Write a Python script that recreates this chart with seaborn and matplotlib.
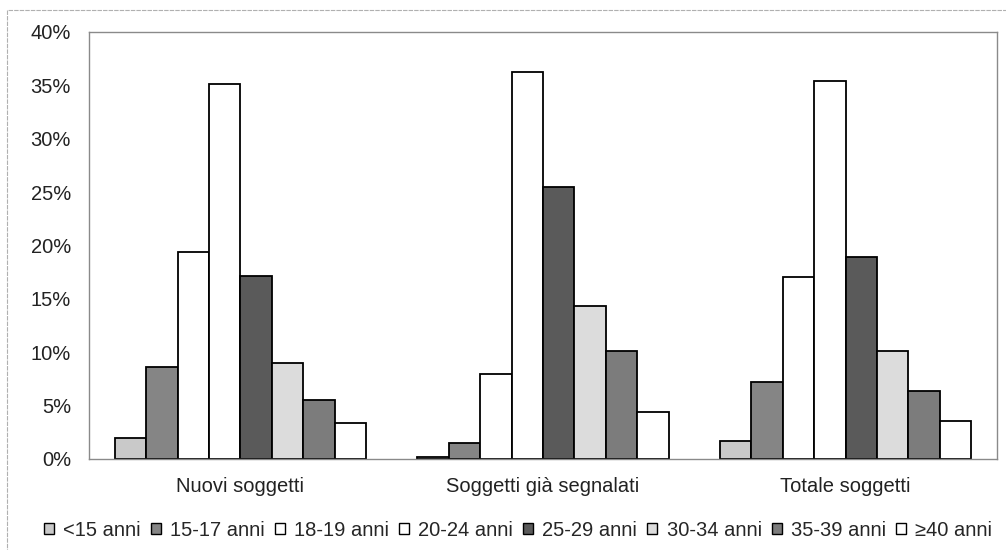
import matplotlib
matplotlib.use('Agg')

import pandas as pd
import matplotlib.pyplot as plt
import seaborn as sns
from matplotlib.patches import Patch, Rectangle
from matplotlib.ticker import FuncFormatter

# dati (% per classe d'età)
gruppi = ['Nuovi soggetti', 'Soggetti già segnalati', 'Totale soggetti']
eta = ['<15 anni', '15-17 anni', '18-19 anni', '20-24 anni',
       '25-29 anni', '30-34 anni', '35-39 anni', '≥40 anni']
nuovi = [2.0, 8.6, 19.4, 35.1, 17.1, 9.0, 5.5, 3.4]
gia_segnalati = [0.2, 1.5, 8.0, 36.2, 25.5, 14.3, 10.1, 4.4]
totale = [1.7, 7.2, 17.0, 35.4, 18.9, 10.1, 6.4, 3.6]
colori = ['#c9c9c9', '#858585', '#ffffff', '#ffffff',
          '#5a5a5a', '#dcdcdc', '#7c7c7c', '#ffffff']

righe = []
for g, valori in zip(gruppi, [nuovi, gia_segnalati, totale]):
    for e, v in zip(eta, valori):
        righe.append({'gruppo': g, 'eta': e, 'perc': v})
df = pd.DataFrame(righe)

sns.set_style('white')
plt.rcParams['font.family'] = ['Liberation Sans', 'DejaVu Sans']

fig = plt.figure(figsize=(10.06, 5.5), dpi=100)
ax = fig.add_axes([0.0885, 0.1655, 0.9025, 0.7765])

sns.barplot(data=df, x='gruppo', y='perc', hue='eta', hue_order=eta,
            order=gruppi, palette=colori, edgecolor='black', linewidth=1.3,
            width=0.83, ax=ax, legend=False)

ax.set_ylim(0, 40)
ax.set_yticks(range(0, 41, 5))
ax.yaxis.set_major_formatter(FuncFormatter(lambda v, p: f'{int(v)}%'))
ax.set_xlabel('')
ax.set_ylabel('')
ax.tick_params(axis='y', length=0, pad=13, labelsize=14.5, colors='#222222')
ax.tick_params(axis='x', length=0, pad=13, labelsize=14.5, colors='#222222')
for s in ax.spines.values():
    s.set_color('#8a8a8a')
    s.set_linewidth(1)

# legenda in basso su una riga
handles = [Patch(facecolor=c, edgecolor='black', linewidth=1) for c in colori]
fig.legend(handles, eta, loc='center left', bbox_to_anchor=(0.044, 0.036),
           ncol=8, frameon=False, fontsize=14.5, handlelength=0.5,
           handleheight=0.5, handletextpad=0.45, columnspacing=0.5,
           borderpad=0, borderaxespad=0)

# cornice esterna del grafico
fig.patches.append(Rectangle((0.007, -0.1), 1.1, 1.082, transform=fig.transFigure,
                             fill=False, edgecolor='#b0b0b0', linewidth=0.8,
                             linestyle=(0, (4, 1))))

plt.savefig('out.png', dpi=100)
